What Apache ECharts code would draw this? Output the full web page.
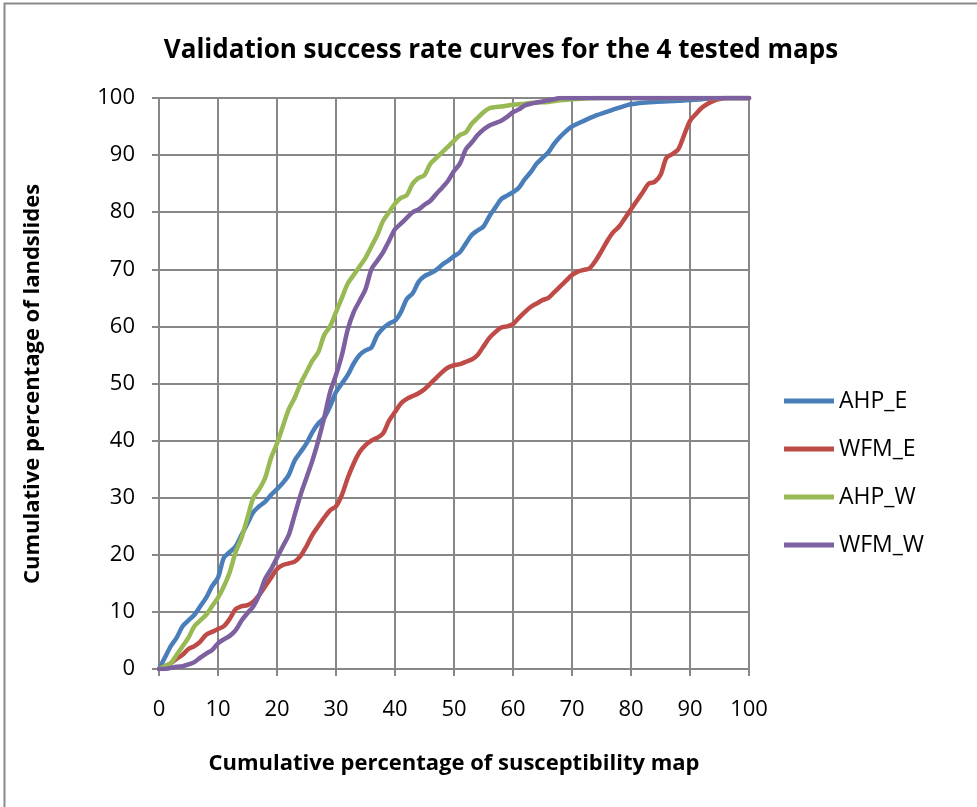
<!DOCTYPE html>
<html>
<head>
<meta charset="utf-8">
<script src="https://cdn.jsdelivr.net/npm/echarts@6/dist/echarts.min.js"></script>
<style>html,body{margin:0;padding:0;background:#fff}#c{width:977px;height:807px}</style>
</head>
<body>
<div id="c"></div>
<script>
const titleText = 'Validation success rate curves for the 4 tested maps';
const xAxisTitle = 'Cumulative percentage of susceptibility map';
const yAxisTitle = 'Cumulative percentage of landslides';
const seriesNames = ['AHP_E', 'WFM_E', 'AHP_W', 'WFM_W'];

const xAHP_E = [0,1,2,3,4,5,6,7,8,9,10,11,12,13,14,15,16,17,18,19,20,21,22,23,24,25,26,27,28,29,30,31,32,33,34,35,36,37,38,39,40,41,42,43,44,45,46,47,48,49,50,51,52,53,54,55,56,57,58,59,60,61,62,63,64,65,66,67,68,69,70,72,74,76,78,80,84,88,92,96,100];
const yAHP_E = [0,2,4,5.5,7.5,8.5,9.5,11,12.5,14.5,16,19.5,20.5,21.5,23.5,25.5,27.5,28.5,29.3,30.5,31.5,32.6,34,36.5,38,39.5,41.5,43,44,46,48.5,50,51.5,53.5,55,55.8,56.3,58.5,59.7,60.5,61,62.5,64.8,65.8,67.8,68.8,69.3,69.9,70.8,71.5,72.3,73,74.5,76,76.8,77.5,79.3,80.8,82.3,82.9,83.5,84.3,85.8,87,88.5,89.5,90.5,92,93.2,94.2,95,96,96.9,97.6,98.3,98.9,99.3,99.5,99.8,100,100];

const xWFM_E = [0,1,2,3,4,5,6,7,8,9,10,11,12,13,14,15,16,17,18,19,20,21,22,23,24,25,26,27,28,29,30,31,32,33,34,35,36,37,38,39,40,41,42,43,44,45,46,47,48,49,50,51,52,53,54,55,56,57,58,59,60,61,62,63,64,65,66,67,68,69,70,71,72,73,74,75,76,77,78,79,80,81,82,83,84,85,86,87,88,89,90,91,92,93,94,95,96,100];
const yWFM_E = [0,0.5,1,1.8,2.5,3.5,4,4.8,6,6.5,7,7.5,8.8,10.5,11,11.2,11.8,13,14.5,16,17.5,18.2,18.5,18.8,19.8,21.5,23.5,25,26.5,27.8,28.5,30.5,33.5,36,38,39.2,40,40.5,41.3,43.5,45,46.5,47.3,47.8,48.3,49,50,51,52,52.8,53.2,53.4,53.8,54.2,55,56.5,58,59,59.8,60,60.4,61.5,62.5,63.4,64,64.6,65,66,67,68,69,69.6,69.9,70.2,71.5,73.2,75,76.5,77.5,79,80.5,82,83.5,85,85.3,86.5,89.5,90.2,91,93.5,96,97.2,98.3,99,99.5,99.8,100,100];

const xAHP_W = [0,1,2,3,4,5,6,7,8,9,10,11,12,13,14,15,16,17,18,19,20,21,22,23,24,25,26,27,28,29,30,31,32,33,34,35,36,37,38,39,40,41,42,43,44,45,46,47,48,49,50,51,52,53,54,55,56,57,58,60,62,64,66,68,70,75,100];
const yAHP_W = [0,0.5,1,2.5,4,5.5,7.5,8.5,9.5,11,12.5,14.5,17,20.5,23,26.5,30,31.5,33.5,37,39.5,42.5,45.5,47.5,50,52,54,55.5,58.5,60,62.5,65,67.5,69,70.5,72,74,76,78.5,80,81.5,82.5,83,85,86,86.5,88.5,89.5,90.5,91.5,92.5,93.5,94,95.5,96.5,97.5,98.2,98.4,98.5,98.8,99,99.2,99.3,99.6,99.8,100,100];

const xWFM_W = [0,1,2,3,4,5,6,7,8,9,10,11,12,13,14,15,16,17,18,19,20,21,22,23,24,25,26,27,28,29,30,31,32,33,34,35,36,37,38,39,40,41,42,43,44,45,46,47,48,49,50,51,52,53,54,55,56,57,58,59,60,61,62,63,64,65,66,67,68,100];
const yWFM_W = [0,0,0.2,0.4,0.5,0.8,1.2,2,2.7,3.3,4.5,5.2,5.8,6.8,8.5,9.8,11,13,15.8,17.5,19.5,21.5,23.5,27,30.5,33.5,36.5,40,44,48.5,51.5,55,59.5,62.5,64.5,66.5,70,71.5,73,75,77,78,79,80,80.5,81.3,82,83.2,84.3,85.5,87.2,88.5,91,92.2,93.5,94.5,95.2,95.6,96,96.7,97.5,98,98.7,99,99.2,99.4,99.6,99.8,100,100];

const colors = ['#4A7EBB', '#BE4B48', '#98B954', '#7D60A0'];

function pairs(xs, ys) { return xs.map((x, i) => [x, ys[i]]); }
const allX = [xAHP_E, xWFM_E, xAHP_W, xWFM_W];
const allY = [yAHP_E, yWFM_E, yAHP_W, yWFM_W];

const gridColor = '#878787';
const fontFam = '"Open Sans", "Noto Sans", sans-serif';

const chart = echarts.init(document.getElementById('c'), null, {renderer: 'canvas'});
chart.setOption({
  animation: false,
  backgroundColor: '#fff',
  color: colors,
  title: {
    text: titleText,
    left: 496, top: 33, textAlign: 'center',
    textStyle: {fontFamily: fontFam, fontSize: 26, fontWeight: 'bold', color: '#000'}
  },
  graphic: [
    {type: 'rect', shape: {x: 4.5, y: 3.5, width: 1200, height: 1200}, style: {fill: 'none', stroke: '#898989', lineWidth: 2}, silent: true},
    {type: 'text', x: 33, y: 384, rotation: Math.PI / 2, style: {text: yAxisTitle, fontFamily: fontFam, fontSize: 22, fontWeight: 'bold', fill: '#000', align: 'center', verticalAlign: 'middle'}},
  ],
  legend: {
    orient: 'vertical',
    left: 779, top: 384,
    itemWidth: 50, itemHeight: 24, itemGap: 24,
    data: seriesNames.map((n) => ({name: n, icon: 'path://M0,0 L50,0 L50,5 L0,5 Z'})),
    textStyle: {fontFamily: fontFam, fontSize: 23, color: '#000', lineHeight: 24}
  },
  grid: {left: 159, right: 228, top: 98, bottom: 138, containLabel: false},
  xAxis: {
    type: 'value', min: 0, max: 100, interval: 10,
    name: xAxisTitle, nameLocation: 'middle', nameGap: 84,
    nameTextStyle: {fontFamily: fontFam, fontSize: 22, fontWeight: 'bold', color: '#000'},
    axisLine: {show: true, lineStyle: {color: gridColor, width: 2}},
    axisTick: {show: true, length: 7, inside: false, lineStyle: {color: gridColor, width: 2}},
    axisLabel: {fontFamily: fontFam, fontSize: 22, color: '#000', margin: 30, showMinLabel: true, showMaxLabel: true},
    splitLine: {show: true, lineStyle: {color: gridColor, width: 2}}
  },
  yAxis: {
    type: 'value', min: 0, max: 100, interval: 10,
    axisLine: {show: true, lineStyle: {color: gridColor, width: 2}},
    axisTick: {show: true, length: 7, inside: false, lineStyle: {color: gridColor, width: 2}},
    axisLabel: {fontFamily: fontFam, fontSize: 22, color: '#000', margin: 24},
    splitLine: {show: true, lineStyle: {color: gridColor, width: 2}}
  },
  series: seriesNames.map((n, i) => ({
    name: n, type: 'line', symbol: 'none', smooth: 0.3,
    lineStyle: {width: 4.5, color: colors[i], cap: 'round', join: 'round'},
    itemStyle: {color: colors[i]},
    data: pairs(allX[i], allY[i])
  }))
});
</script>
</body>
</html>
